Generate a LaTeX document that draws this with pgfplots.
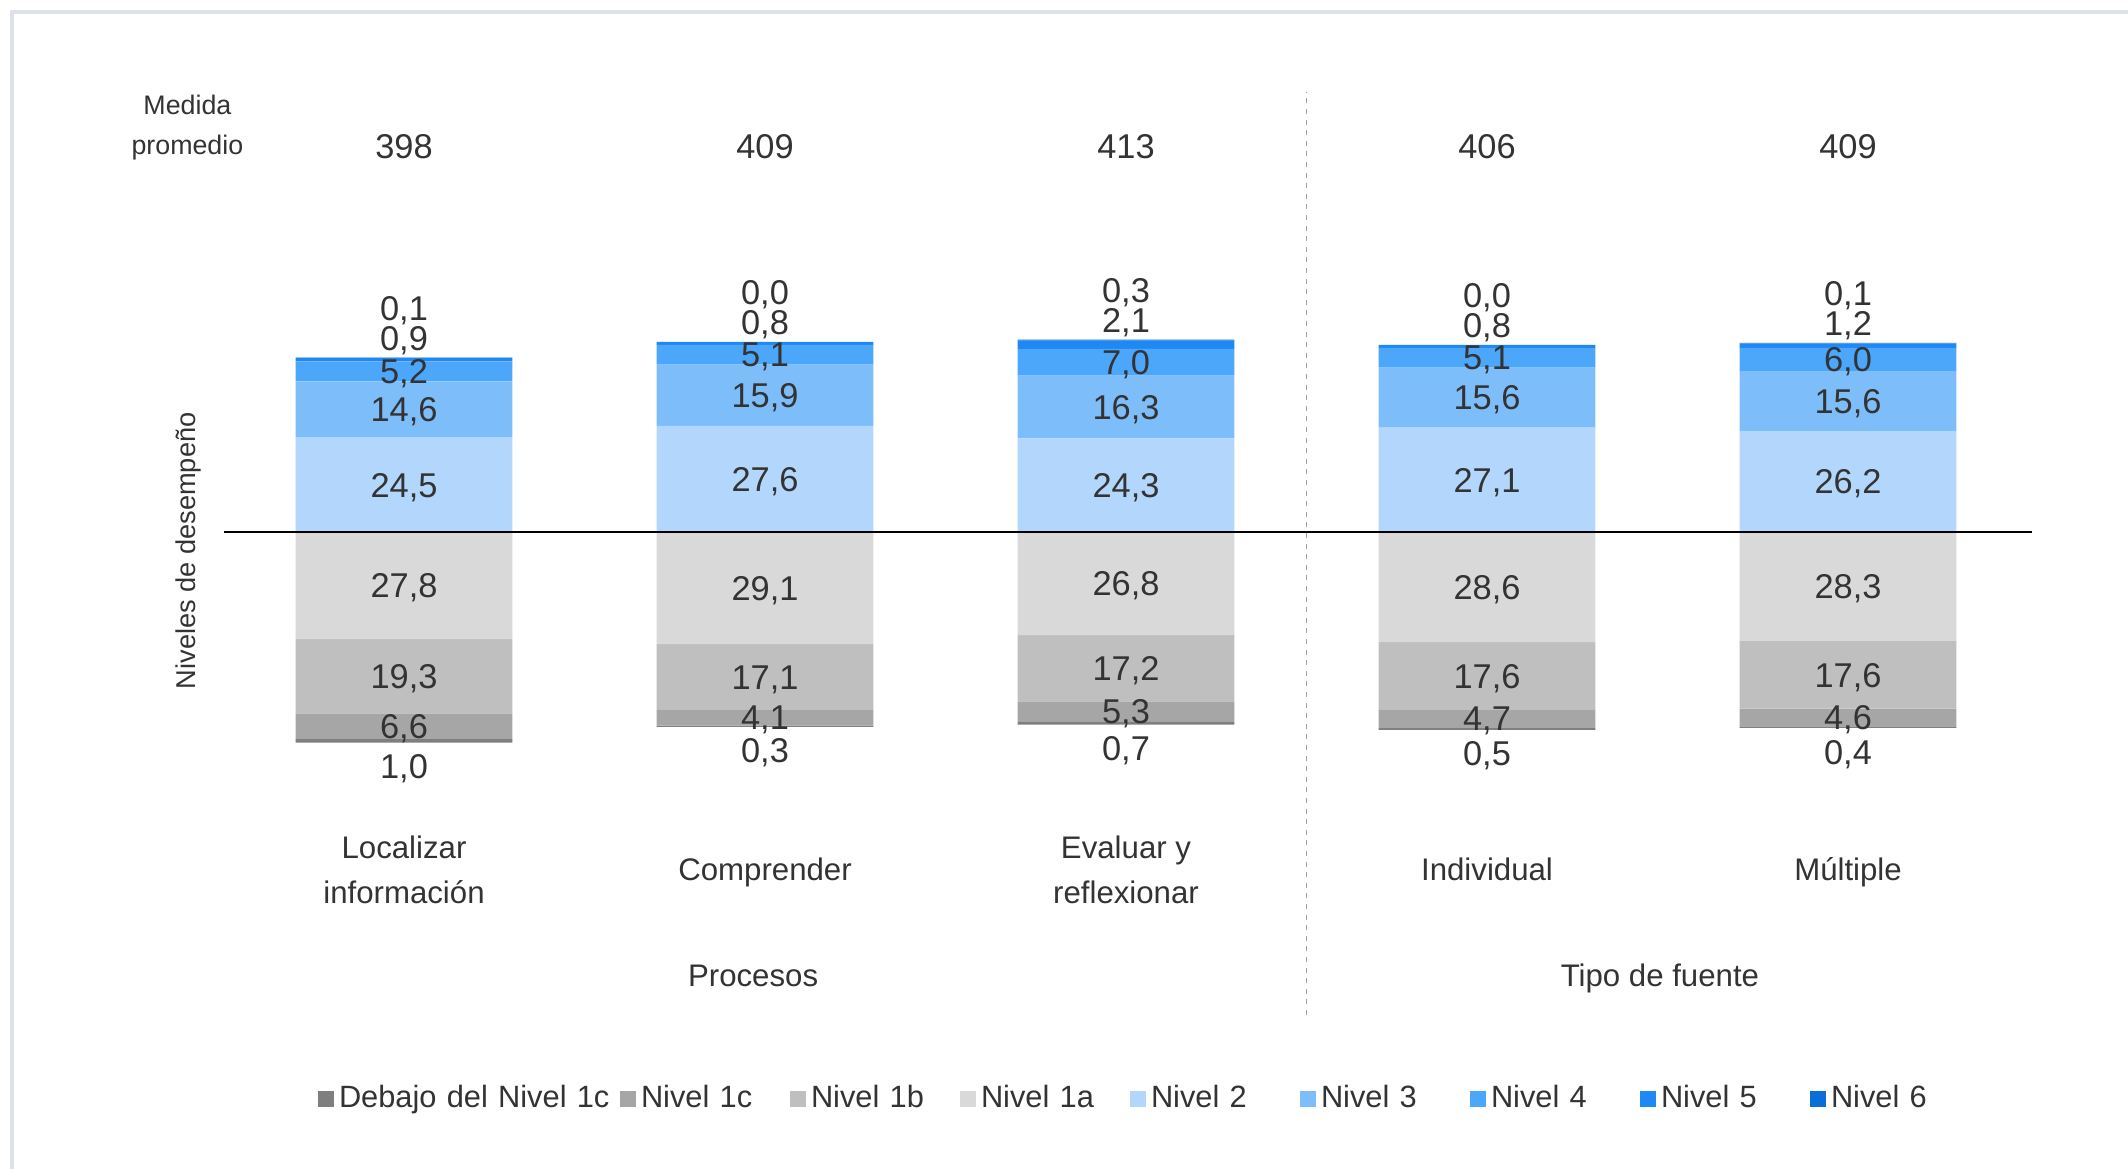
\documentclass[border=0pt]{standalone}
\usepackage{pgfplots}
\pgfplotsset{compat=1.18}
\usepackage{pgfplotstable}
\usepackage{fontspec}
\setmainfont{Liberation Sans}

\definecolor{cD}{HTML}{7F7F7F}
\definecolor{cC}{HTML}{A6A6A6}
\definecolor{cB}{HTML}{BFBFBF}
\definecolor{cA}{HTML}{D9D9D9}
\definecolor{cN2}{HTML}{B3D7FC}
\definecolor{cN3}{HTML}{7DBEFA}
\definecolor{cN4}{HTML}{4CA6FA}
\definecolor{cN5}{HTML}{1E88F5}
\definecolor{cN6}{HTML}{0A6ED8}
\definecolor{txt}{HTML}{333333}
\definecolor{frame}{HTML}{DDE1EA}
\definecolor{dash}{HTML}{A0A0A0}

% x: category index; d = Debajo del Nivel 1c, c = 1c, b = 1b, a = 1a; n2..n6 = Nivel 2..6; m = medida promedio
\pgfplotstableread{
x d c b a n2 n3 n4 n5 n6 m
0 1.0 6.6 19.3 27.8 24.5 14.6 5.2 0.9 0.1 398
1 0.3 4.1 17.1 29.1 27.6 15.9 5.1 0.8 0.0 409
2 0.7 5.3 17.2 26.8 24.3 16.3 7.0 2.1 0.3 413
3 0.5 4.7 17.6 28.6 27.1 15.6 5.1 0.8 0.0 406
4 0.4 4.6 17.6 28.3 26.2 15.6 6.0 1.2 0.1 409
}\data

\pgfplotsset{
  base/.style={at={(55.875pt,38.5pt)}, anchor=south west, scale only axis,
    width=451.25pt, height=230.75pt, xmin=-0.5, xmax=4.5,
    ymin=-125.45, ymax=114.29, clip=false},
  lab/.style={forget plot, draw=none, mark=none, nodes near coords, point meta=explicit,
    every node near coord/.append style={anchor=center, yshift=-0.6pt,
      font=\fontsize{8.6}{10}\selectfont, text=txt}},
}

\begin{document}
\begin{tikzpicture}
\useasboundingbox (0,0) rectangle (532pt,292.25pt);
\fill[white] (0,0) rectangle (532pt,292.25pt);
\draw[line width=1pt, color=frame] (3pt,0) -- (3pt,289.25pt) -- (532pt,289.25pt);

% bars (negative values stack downward, positive values upward)
\begin{axis}[base, hide axis, ybar stacked, bar width=0.6]
\addplot[fill=cA, draw=none] table[x=x, y expr=-\thisrow{a}] {\data};
\addplot[fill=cB, draw=none] table[x=x, y expr=-\thisrow{b}] {\data};
\addplot[fill=cC, draw=none] table[x=x, y expr=-\thisrow{c}] {\data};
\addplot[fill=cD, draw=none] table[x=x, y expr=-\thisrow{d}] {\data};
\addplot[fill=cN2, draw=none] table[x=x, y=n2] {\data};
\addplot[fill=cN3, draw=none] table[x=x, y=n3] {\data};
\addplot[fill=cN4, draw=none] table[x=x, y=n4] {\data};
\addplot[fill=cN5, draw=none] table[x=x, y=n5] {\data};
\addplot[fill=cN6, draw=none] table[x=x, y=n6] {\data};
\end{axis}

% labels, lines, legend
\begin{axis}[base,
  axis line style={draw=none}, tick style={draw=none}, major tick length=0pt,
  ytick=\empty, xtick={0,1,2,3,4},
  xticklabels={{\strut Localizar\\\strut información},\strut Comprender,{\strut Evaluar y\\\strut reflexionar},\strut Individual,\strut Múltiple},
  xticklabel style={align=center, anchor=center, yshift=35.8pt,
    font=\fontsize{7.8}{11.2}\selectfont, text=txt},
  nodes near coords align={center},
  /pgf/number format/.cd, fixed, fixed zerofill, precision=1, use comma, assume math mode=true,
  /pgfplots/.cd,
  legend image code/.code={\fill[#1, draw=none] (0pt,-2pt) rectangle (4pt,2pt);},
  legend style={at={(0.05235,-0.091)}, anchor=west, draw=none, fill=none,
    legend columns=9, inner sep=0pt, outer sep=0pt,
    nodes={inner sep=0pt},
    /tikz/every odd column/.append style={column sep=1.25pt},
    font=\fontsize{7.7}{9}\selectfont, text=txt, cells={anchor=west}},
]
\draw[color=dash, line width=0.4pt, dash pattern=on 1.25pt off 1.4pt]
  (axis cs:2.5,-125.45) -- (axis cs:2.5,114.29);
\draw[black, line width=0.4pt] (axis cs:-0.5,0) -- (axis cs:4.51,0);

% value labels
\addplot[lab] table[x=x, y expr=\thisrow{n2}/2, meta=n2] {\data};
\addplot[lab] table[x=x, y expr=\thisrow{n2}+\thisrow{n3}/2, meta=n3] {\data};
\addplot[lab] table[x=x, y expr=\thisrow{n2}+\thisrow{n3}+\thisrow{n4}/2, meta=n4] {\data};
\addplot[lab] table[x=x, y expr=\thisrow{n2}+\thisrow{n3}+\thisrow{n4}+\thisrow{n5}+\thisrow{n6}+5, meta=n5] {\data};
\addplot[lab] table[x=x, y expr=\thisrow{n2}+\thisrow{n3}+\thisrow{n4}+\thisrow{n5}+\thisrow{n6}+12.8, meta=n6] {\data};
\addplot[lab] table[x=x, y expr=-\thisrow{a}/2, meta=a] {\data};
\addplot[lab] table[x=x, y expr=-\thisrow{a}-\thisrow{b}/2, meta=b] {\data};
\addplot[lab] table[x=x, y expr=-\thisrow{a}-\thisrow{b}-\thisrow{c}/2, meta=c] {\data};
\addplot[lab] table[x=x, y expr=-\thisrow{a}-\thisrow{b}-\thisrow{c}-\thisrow{d}-6.2, meta=d] {\data};

% medida promedio
\addplot[forget plot, draw=none, mark=none, point meta=explicit,
  nodes near coords={\pgfmathprintnumber[fixed,precision=0]{\pgfplotspointmeta}},
  every node near coord/.append style={anchor=center, font=\fontsize{8.6}{10}\selectfont, text=txt}]
  table[x=x, y expr=100, meta=m] {\data};

\node[align=center, font=\fontsize{6.7}{10.1}\selectfont, text=txt] at (axis cs:-0.6,105.0) {Medida\\promedio};
\node[rotate=90, font=\fontsize{6.8}{8}\selectfont, text=txt] at (axis cs:-0.598,-4.9) {Niveles de desempeño};
\node[font=\fontsize{7.8}{9}\selectfont, text=txt] at (axis cs:0.967,-116.3) {\strut Procesos};
\node[font=\fontsize{7.8}{9}\selectfont, text=txt] at (axis cs:3.479,-116.3) {\strut Tipo de fuente};

\addlegendimage{fill=cD}\addlegendentry[text width=70.25pt]{Debajo del Nivel 1c}
\addlegendimage{fill=cC}\addlegendentry[text width=37.25pt]{Nivel 1c}
\addlegendimage{fill=cB}\addlegendentry[text width=37.25pt]{Nivel 1b}
\addlegendimage{fill=cA}\addlegendentry[text width=37.25pt]{Nivel 1a}
\addlegendimage{fill=cN2}\addlegendentry[text width=37.25pt]{Nivel 2}
\addlegendimage{fill=cN3}\addlegendentry[text width=37.25pt]{Nivel 3}
\addlegendimage{fill=cN4}\addlegendentry[text width=37.25pt]{Nivel 4}
\addlegendimage{fill=cN5}\addlegendentry[text width=37.25pt]{Nivel 5}
\addlegendimage{fill=cN6}\addlegendentry[text width=37.25pt]{Nivel 6}
\end{axis}
\end{tikzpicture}
\end{document}
